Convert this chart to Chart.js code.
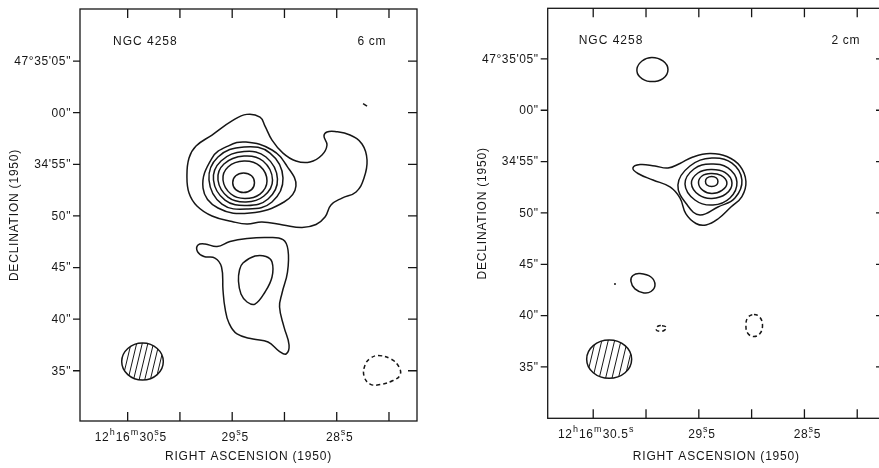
<!DOCTYPE html>
<html>
<head>
<meta charset="utf-8">
<title>NGC 4258 6 cm / 2 cm</title>
<script src="https://cdn.jsdelivr.net/npm/chart.js@4.4.1/dist/chart.umd.min.js"></script>
<style>
  html, body { margin: 0; padding: 0; background: #fff; overflow: hidden; }
  #page { position: relative; width: 879px; height: 468px; overflow: hidden; }
  canvas { position: absolute; top: 0; }
  #map6 { left: 0; }
  #map2 { left: 440px; }
</style>
</head>
<body>
<div id="page">
  <canvas id="map6" width="440" height="468"></canvas>
  <canvas id="map2" width="450" height="468"></canvas>
</div>
<script>
// axes: x = RA seconds after 12h16m, y = Dec arcsec after 47°34'
const raTicks = [30.5, 30.0, 29.5, 29.0, 28.5, 28.0];
const raLabelTicks = [30.5, 29.5, 28.5];
const decTicks = [65, 60, 55, 50, 45, 40, 35];
const decLabels = ['47°35\'05"', '00"', '34\'55"', '50"', '45"', '40"', '35"'];

// label pieces: [text, kind]  0 normal, 1 superscript, 2 superscript sitting on the decimal point
const raLabels6 = [
  [['12', 0], ['h', 1], ['16', 0], ['m', 1], ['30', 0], ['s', 2], ['5', 0]],
  [['29', 0], ['s', 2], ['5', 0]],
  [['28', 0], ['s', 2], ['5', 0]]
];
const raLabels2 = [
  [['12', 0], ['h', 1], ['16', 0], ['m', 1], ['30.5', 0], ['s', 1]],
  [['29', 0], ['s', 2], ['5', 0]],
  [['28', 0], ['s', 2], ['5', 0]]
];

// beam: [ra, dec, half width (s), half height (")]
const beam6 = [30.358, 35.89, 0.199, 1.79];
const beam2 = [30.349, 35.76, 0.213, 1.87];

// ---- 6 cm contours ----
const c6Outer = [[29.361,59.84],[29.234,59.58],[29.186,58.71],[29.119,57.35],[29.014,56.09],[28.890,55.32],[28.756,55.22],[28.641,55.90],[28.593,56.87],[28.622,57.74],[28.593,58.13],[28.516,58.18],[28.373,57.84],[28.258,56.97],[28.210,55.42],[28.239,53.67],[28.315,52.32],[28.449,51.73],[28.555,51.06],[28.612,49.89],[28.698,49.17],[28.832,48.88],[29.014,49.12],[29.215,49.41],[29.358,49.21],[29.502,49.46],[29.693,49.99],[29.837,50.96],[29.913,52.22],[29.933,53.87],[29.913,55.61],[29.846,56.77],[29.693,57.84],[29.502,59.20]];
const c6Ring2 = [[29.368,57.16],[29.540,56.77],[29.693,55.61],[29.779,52.70],[29.636,50.77],[29.330,50.28],[29.004,51.35],[28.890,52.90],[28.976,54.83],[29.119,56.39]];
const c6Ring3 = [[29.387,56.68],[29.138,56.09],[29.014,53.67],[29.119,51.35],[29.349,50.67],[29.598,51.15],[29.722,53.48],[29.636,55.71]];
const c6Ring4 = [[29.387,56.24],[29.177,55.71],[29.067,53.58],[29.157,51.64],[29.358,51.01],[29.569,51.54],[29.679,53.48],[29.607,55.32]];
const c6Ring5 = [[29.387,55.80],[29.205,55.32],[29.114,53.48],[29.196,51.93],[29.368,51.35],[29.540,51.83],[29.636,53.48],[29.579,55.03]];
const c6Ring6 = [[29.387,55.32],[29.234,54.83],[29.167,53.38],[29.234,52.12],[29.378,51.69],[29.512,52.12],[29.588,53.48],[29.540,54.74]];
const c6Core = [[29.391,54.16],[29.315,53.89],[29.287,53.22],[29.315,52.55],[29.391,52.27],[29.466,52.55],[29.495,53.22],[29.466,53.89]];
const c6South = [[29.827,47.18],[29.760,47.28],[29.645,47.03],[29.521,47.52],[29.358,47.81],[29.167,47.91],[29.014,47.71],[28.966,46.70],[28.971,44.56],[29.023,42.53],[29.047,41.17],[29.004,39.23],[28.956,37.49],[28.985,36.62],[29.052,36.91],[29.157,37.78],[29.301,38.07],[29.454,38.56],[29.531,39.62],[29.569,41.08],[29.588,42.82],[29.602,45.05],[29.665,45.92],[29.770,46.07],[29.832,46.55]];
const c6SouthCore = [[29.397,45.44],[29.282,46.11],[29.177,46.07],[29.119,45.53],[29.119,44.08],[29.186,42.63],[29.282,41.46],[29.358,41.66],[29.416,42.43],[29.440,43.69],[29.430,44.76]];
const c6Neg = [[28.105,36.47],[27.980,36.13],[27.904,35.36],[27.894,34.58],[27.961,34.05],[28.086,33.66],[28.181,33.71],[28.239,34.49],[28.229,35.55],[28.181,36.18]];
const c6Speck = [[28.248,60.89],[28.210,60.65]];

// ---- 2 cm contours ----
const c2North = [[29.944,65.14],[29.840,64.80],[29.792,63.97],[29.840,63.09],[29.963,62.80],[30.057,63.24],[30.086,64.02],[30.038,64.80]];
const c2Outer = [[30.124,54.38],[30.057,54.72],[29.915,54.57],[29.792,54.38],[29.679,54.82],[29.556,55.45],[29.395,55.79],[29.234,55.50],[29.110,54.57],[29.054,53.06],[29.092,51.60],[29.196,50.58],[29.319,49.41],[29.432,48.83],[29.527,48.97],[29.622,49.90],[29.679,51.46],[29.773,52.53],[29.934,53.21],[30.076,53.84]];
const c2Ring2 = [[29.376,55.35],[29.186,54.86],[29.092,53.21],[29.158,51.46],[29.319,50.58],[29.489,49.80],[29.603,50.68],[29.698,52.72],[29.584,54.57]];
const c2Ring3 = [[29.385,54.77],[29.224,54.38],[29.139,53.01],[29.205,51.46],[29.366,50.77],[29.537,51.26],[29.631,52.82],[29.546,54.28]];
const c2Ring4 = [[29.385,54.23],[29.253,53.94],[29.186,52.92],[29.243,51.85],[29.376,51.41],[29.499,51.75],[29.570,52.87],[29.508,53.89]];
const c2Ring5 = [[29.385,53.84],[29.290,53.65],[29.234,52.92],[29.281,52.19],[29.376,51.89],[29.461,52.19],[29.503,52.92],[29.470,53.60]];
const c2Core = [[29.378,53.55],[29.333,53.40],[29.319,53.06],[29.333,52.72],[29.378,52.58],[29.423,52.72],[29.437,53.06],[29.423,53.40]];
const c2East = [[30.057,44.10],[29.953,43.76],[29.915,42.99],[29.953,42.35],[30.020,42.21],[30.105,42.60],[30.143,43.37],[30.124,43.91]];
const c2NegA = [[29.849,39.02],[29.806,38.85],[29.830,38.55],[29.868,38.46],[29.906,38.65],[29.892,38.94]];
const c2NegB = [[28.978,40.11],[28.921,39.82],[28.897,39.04],[28.921,38.26],[28.978,37.97],[29.035,38.26],[29.054,39.04],[29.035,39.82]];
const c2Speck = [[30.294,43.08]];

const INK = '#161616';
const FONT = '"Liberation Sans", Arial, sans-serif';

// closed contours: tell the line element to wrap round so the curve has no seam
const loopPlugin = {
    id: 'closedContours',
    afterDatasetUpdate(chart, args) {
        const ds = chart.data.datasets[args.index];
        const line = args.meta.dataset;
        if (ds.closed && line) {
            line._loop = true;
            line._fullLoop = true;
        }
    }
};

function contour(pts, opts = {}) {
    return {
        data: pts.map(([x, y]) => ({ x, y })),
        showLine: true,
        closed: opts.open ? false : true,
        borderColor: INK,
        borderWidth: 1.5,
        borderDash: opts.dashed ? [4, 3] : [],
        tension: 0.42,
        pointRadius: 0,
        fill: false
    };
}

function drawRaLabel(ctx, parts, cx, base) {
    const big = '12px ' + FONT;
    const small = '9px ' + FONT;
    const widths = parts.map(([t, k]) => {
        if (k === 0) { ctx.font = big; return ctx.measureText(t).width; }
        if (k === 1) { ctx.font = small; return ctx.measureText(t).width + 1; }
        ctx.font = big; return ctx.measureText('.').width + 1.5;
    });
    let xx = cx - widths.reduce((s, w) => s + w, 0) / 2;
    parts.forEach(([t, k], i) => {
        ctx.textAlign = 'left';
        if (k === 0) {
            ctx.font = big; ctx.fillText(t, xx, base);
        } else if (k === 1) {
            ctx.font = small; ctx.fillText(t, xx + 0.5, base - 6);
        } else {
            ctx.font = big; ctx.fillText('.', xx, base);
            ctx.font = small; ctx.textAlign = 'center';
            ctx.fillText(t, xx + widths[i] / 2, base - 6);
        }
        xx += widths[i];
    });
}

function framePlugin(panel) {
    return {
        id: 'frame',
        afterDraw(chart) {
            const { ctx, chartArea: a, scales: { x, y } } = chart;
            ctx.save();
            ctx.strokeStyle = INK;
            ctx.fillStyle = INK;
            ctx.lineWidth = 1.3;
            ctx.strokeRect(a.left, a.top, a.right - a.left, a.bottom - a.top);

            // ticks: bottom/top/right point inwards, left points outwards
            ctx.beginPath();
            raTicks.forEach(v => {
                const px = x.getPixelForValue(v);
                ctx.moveTo(px, a.bottom); ctx.lineTo(px, a.bottom - 9);
                ctx.moveTo(px, a.top); ctx.lineTo(px, a.top + 9);
            });
            decTicks.forEach(v => {
                const py = y.getPixelForValue(v);
                ctx.moveTo(a.left - 7, py); ctx.lineTo(a.left, py);
                ctx.moveTo(a.right - 9, py); ctx.lineTo(a.right, py);
            });
            ctx.stroke();

            ctx.letterSpacing = '0.6px';
            ctx.font = '12px ' + FONT;
            ctx.textAlign = 'right';
            ctx.textBaseline = 'middle';
            decTicks.forEach((v, i) => {
                ctx.fillText(decLabels[i], a.left - 9, y.getPixelForValue(v) + 0.5);
            });

            ctx.textBaseline = 'alphabetic';
            raLabelTicks.forEach((v, i) => {
                drawRaLabel(ctx, panel.raLabels[i], x.getPixelForValue(v) + 3, a.bottom + 19.5);
            });

            // axis titles
            ctx.letterSpacing = '0.8px';
            ctx.font = '12px ' + FONT;
            ctx.textAlign = 'center';
            ctx.fillText('RIGHT ASCENSION (1950)', (a.left + a.right) / 2, 460);
            ctx.save();
            ctx.translate(a.left - 65, (a.top + a.bottom) / 2);
            ctx.rotate(-Math.PI / 2);
            ctx.textBaseline = 'middle';
            ctx.fillText('DECLINATION (1950)', 0, 0);
            ctx.restore();

            // panel captions
            ctx.letterSpacing = '1px';
            ctx.textAlign = 'left';
            ctx.fillText('NGC 4258', a.left + panel.nameDx, a.top + 36);
            ctx.textAlign = 'right';
            ctx.letterSpacing = '0.6px';
            ctx.fillText(panel.band, a.right - panel.bandDx, a.top + 36);

            // hatched beam
            const [bra, bdec, brx, bry] = panel.beam;
            const bx = x.getPixelForValue(bra), by = y.getPixelForValue(bdec);
            const rx = Math.abs(x.getPixelForValue(bra + brx) - bx);
            const ry = Math.abs(y.getPixelForValue(bdec + bry) - by);
            ctx.lineWidth = 1.5;
            ctx.beginPath();
            ctx.ellipse(bx, by, rx, ry, 0, 0, Math.PI * 2);
            ctx.stroke();
            ctx.clip();
            ctx.lineWidth = 1;
            ctx.beginPath();
            for (let k = -5; k <= 5; k++) {
                const ox = bx + k * panel.hatch + 1;
                ctx.moveTo(ox - 0.24 * 30, by + 30);
                ctx.lineTo(ox + 0.24 * 30, by - 30);
            }
            ctx.stroke();
            ctx.restore();
        }
    };
}

function makePanel(canvasId, panel) {
    return new Chart(document.getElementById(canvasId), {
        type: 'scatter',
        data: { datasets: panel.datasets },
        options: {
            responsive: false,
            animation: false,
            events: [],
            layout: { padding: panel.padding },
            scales: {
                x: { type: 'linear', reverse: true, min: panel.xRange[0], max: panel.xRange[1], bounds: 'data', display: false },
                y: { type: 'linear', min: panel.yRange[0], max: panel.yRange[1], bounds: 'data', display: false }
            },
            plugins: { legend: { display: false }, tooltip: { enabled: false } }
        },
        plugins: [loopPlugin, framePlugin(panel)]
    });
}

makePanel('map6', {
    band: '6 cm',
    raLabels: raLabels6,
    beam: beam6,
    hatch: 5.6,
    nameDx: 33,
    bandDx: 31,
    padding: { left: 80, right: 23, top: 9, bottom: 47 },
    xRange: [27.732, 30.956],
    yRange: [30.13, 70.05],
    datasets: [
        contour(c6Outer), contour(c6Ring2), contour(c6Ring3), contour(c6Ring4),
        contour(c6Ring5), contour(c6Ring6), contour(c6Core),
        contour(c6South), contour(c6SouthCore),
        contour(c6Neg, { dashed: true }),
        contour(c6Speck, { open: true })
    ]
});

makePanel('map2', {
    band: '2 cm',
    raLabels: raLabels2,
    beam: beam2,
    hatch: 6.4,
    nameDx: 31,
    bandDx: 25,
    padding: { left: 107.7, right: 5, top: 8.3, bottom: 49.7 },
    xRange: [27.737, 30.931],
    yRange: [30.0, 69.93],
    datasets: [
        contour(c2North), contour(c2Outer), contour(c2Ring2), contour(c2Ring3),
        contour(c2Ring4), contour(c2Ring5), contour(c2Core), contour(c2East),
        contour(c2NegA, { dashed: true }), contour(c2NegB, { dashed: true }),
        { data: c2Speck.map(([x, y]) => ({ x, y })), pointRadius: 1, pointBackgroundColor: INK, pointBorderWidth: 0 }
    ]
});
</script>
</body>
</html>
